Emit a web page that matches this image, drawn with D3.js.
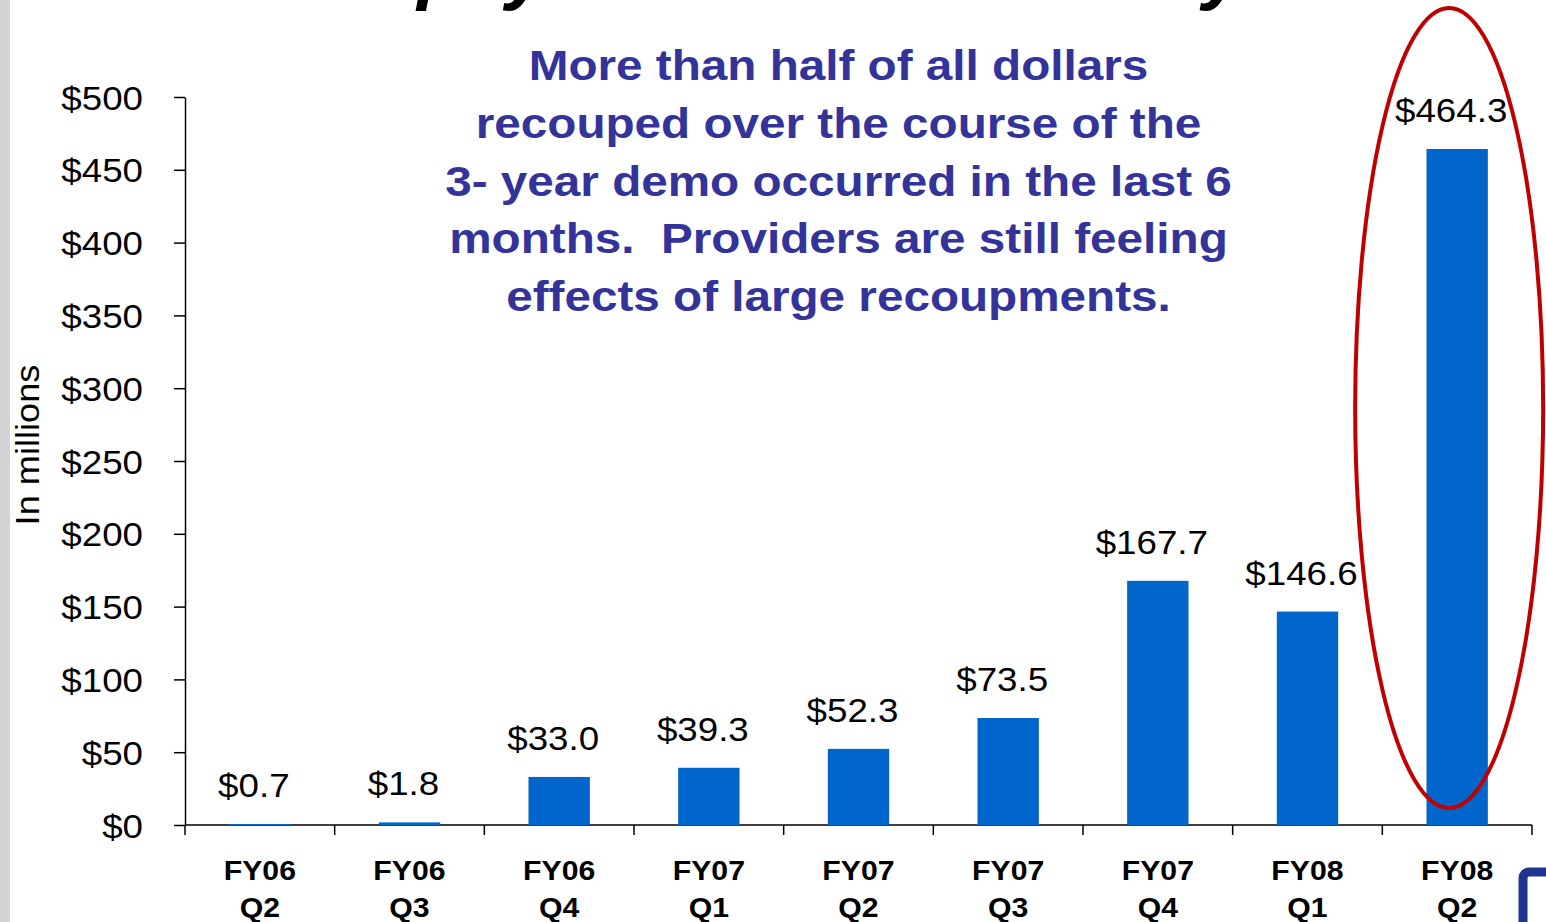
<!DOCTYPE html>
<html>
<head>
<meta charset="utf-8">
<script src="https://cdn.jsdelivr.net/npm/d3@7"></script>
<style>
  html, body { margin: 0; padding: 0; background: #fff; }
  svg { display: block; font-family: "Liberation Sans", Arial, sans-serif; }
  .note { white-space: pre; }
</style>
</head>
<body>
<div id="chart"></div>
<script>
const categories = ["FY06 Q2", "FY06 Q3", "FY06 Q4", "FY07 Q1", "FY07 Q2", "FY07 Q3", "FY07 Q4", "FY08 Q1", "FY08 Q2"];
const values = [0.7, 1.8, 33.0, 39.3, 52.3, 73.5, 167.7, 146.6, 464.3];
const yTicks = [0, 50, 100, 150, 200, 250, 300, 350, 400, 450, 500];
const noteLines = [
    "More than half of all dollars",
    "recouped over the course of the",
    "3- year demo occurred in the last 6",
    "months.  Providers are still feeling",
    "effects of large recoupments."
];
const titleText = "Overpayments Collected by RACs";

let width = 1546;
let height = 922;
let margin = ({top: 97, right: 14, bottom: 97, left: 185});
let barColor = "#0066cc";
let noteColor = "#333399";
let sx = 1.08; // text in the slide is a bit stretched horizontally

const svg = d3.select("#chart").append("svg")
    .attr("width", width)
    .attr("height", height)
    .attr("viewBox", [0, 0, width, height]);

// gray strip on the left edge
svg.append("rect")
    .attr("x", 0).attr("y", 0)
    .attr("width", 10).attr("height", height)
    .attr("fill", "#d4d4d4");

// cut-off slide title
svg.append("text")
    .attr("x", 244)
    .attr("y", -5)
    .attr("font-size", 76)
    .attr("font-weight", "bold")
    .attr("font-style", "italic")
    .attr("fill", "#000")
    .text(titleText);

const xScale = d3.scaleBand()
    .domain(categories)
    .range([margin.left, width - margin.right])
    .paddingInner(0.59)
    .paddingOuter(0.295);

const yScale = d3.scaleLinear()
    .domain([0, 500])
    .range([height - margin.bottom, margin.top]);

// y axis
const yAxis = d3.axisLeft(yScale)
    .tickValues(yTicks)
    .tickSize(11)
    .tickSizeOuter(0)
    .tickFormat(d => "$" + d);

svg.append("g")
    .attr("transform", `translate(${margin.left},0)`)
    .call(yAxis)
    .call(g => g.select(".domain").attr("stroke", "#000").attr("stroke-width", 1.5))
    .call(g => g.selectAll(".tick line").attr("stroke", "#000").attr("stroke-width", 1.5))
    .call(g => g.selectAll(".tick text")
        .attr("x", null)
        .attr("dy", null)
        .attr("font-size", 34)
        .attr("fill", "#000")
        .attr("font-family", "Liberation Sans, Arial, sans-serif")
        .attr("transform", `translate(-42,12) scale(${sx},1)`));

// x axis line with boundary ticks
const step = xScale.step();
const x0 = margin.left;
const yBase = yScale(0);
svg.append("line")
    .attr("x1", x0).attr("x2", x0 + step * categories.length)
    .attr("y1", yBase).attr("y2", yBase)
    .attr("stroke", "#000").attr("stroke-width", 1.5);

svg.append("g")
    .selectAll("line")
    .data(d3.range(categories.length + 1))
    .join("line")
    .attr("x1", i => x0 + i * step)
    .attr("x2", i => x0 + i * step)
    .attr("y1", yBase)
    .attr("y2", yBase + 10)
    .attr("stroke", "#000").attr("stroke-width", 1.5);

// bars
svg.append("g")
    .selectAll("rect")
    .data(values)
    .join("rect")
    .attr("x", (d, i) => xScale(categories[i]))
    .attr("y", d => yScale(d))
    .attr("width", xScale.bandwidth())
    .attr("height", d => yScale(0) - yScale(d))
    .attr("fill", barColor);

// value labels
svg.append("g")
    .selectAll("text")
    .data(values)
    .join("text")
    .attr("transform", (d, i) => `translate(${xScale(categories[i]) + xScale.bandwidth() / 2 - 6},${yScale(d) - 27}) scale(${sx},1)`)
    .attr("text-anchor", "middle")
    .attr("font-size", 34)
    .attr("fill", "#000")
    .text(d => "$" + d.toFixed(1));

// category labels, two lines each
const catG = svg.append("g")
    .selectAll("text")
    .data(categories)
    .join("text")
    .attr("transform", d => `translate(${xScale(d) + xScale.bandwidth() / 2},880) scale(1.12,1)`)
    .attr("text-anchor", "middle")
    .attr("font-size", 27)
    .attr("font-weight", "bold")
    .attr("fill", "#000");

catG.selectAll("tspan")
    .data(d => d.split(" "))
    .join("tspan")
    .attr("x", 0)
    .attr("y", (d, i) => i * 37)
    .text(d => d);

// y axis title
svg.append("text")
    .attr("transform", `translate(39,445) rotate(-90) scale(${sx},1)`)
    .attr("text-anchor", "middle")
    .attr("font-size", 33.5)
    .attr("fill", "#000")
    .text("In millions");

// annotation
svg.append("g")
    .selectAll("text")
    .data(noteLines)
    .join("text")
    .attr("class", "note")
    .attr("xml:space", "preserve")
    .attr("transform", (d, i) => `translate(838.5,${80 + i * 57.8}) scale(1.135,1)`)
    .attr("text-anchor", "middle")
    .attr("font-size", 42)
    .attr("font-weight", "bold")
    .attr("fill", noteColor)
    .text(d => d);

// red ellipse around the last bar
svg.append("ellipse")
    .attr("cx", xScale(categories[categories.length - 1]) + xScale.bandwidth() / 2 - 8)
    .attr("cy", 408)
    .attr("rx", 94)
    .attr("ry", 400)
    .attr("fill", "none")
    .attr("stroke", "#c00000")
    .attr("stroke-width", 4);

// partial logo at the bottom right corner
svg.append("rect")
    .attr("x", 1523).attr("y", 872)
    .attr("width", 60).attr("height", 100)
    .attr("rx", 6)
    .attr("fill", "#fff")
    .attr("stroke", "#1f3593")
    .attr("stroke-width", 9);
</script>
</body>
</html>
